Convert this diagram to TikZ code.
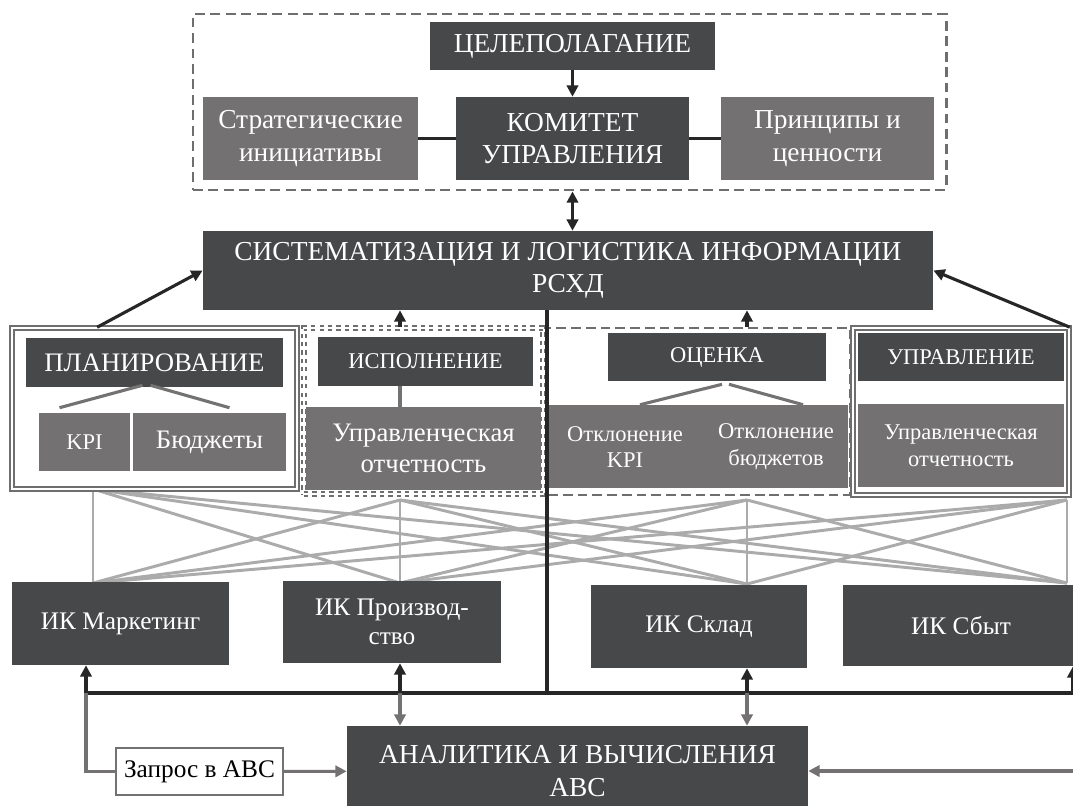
\documentclass[tikz,border=0pt]{standalone}
\usepackage{fontspec}
\setmainfont{Liberation Serif}
\usetikzlibrary{arrows.meta,calc}
\definecolor{dark}{HTML}{47484A}
\definecolor{mid}{HTML}{737172}
\definecolor{pale}{HTML}{ABABAB}
\definecolor{frame}{HTML}{6E6E6E}
\begin{document}
\begin{tikzpicture}[x=0.025cm,y=-0.025cm,>={Triangle[length=8pt,width=8pt]},
  sz/.style 2 args={minimum width=#1*0.25mm,minimum height=#2*0.25mm},
  dk/.style={fill=dark,text=white,inner sep=0pt,align=center,font=\fontsize{19.5}{23}\selectfont},
  md/.style={fill=mid,text=white,inner sep=0pt,align=center,font=\fontsize{19.5}{23}\selectfont},
  f19/.style={font=\fontsize{19}{22}\selectfont},
  f18/.style={font=\fontsize{18}{21}\selectfont},
  f16/.style={font=\fontsize{16}{19}\selectfont},
  blk/.style={line width=2.2pt,black!85},
  gr/.style={line width=2.2pt,mid},
  web/.style={line width=2.1pt,pale},
  topframe/.style={draw=frame,line width=2pt,dash pattern=on 7pt off 4pt,inner sep=0pt},
  dblframe/.style={draw=frame,double,double distance=1.5pt,line width=1.1pt,inner sep=0pt},
  dshframe/.style={draw=frame,line width=2pt,dash pattern=on 7pt off 3.5pt,inner sep=0pt}]
\clip (0,0) rectangle (1073,805);

% web between blocks and IK
\coordinate (t1) at (93,489);
\coordinate (t2) at (400,500);
\coordinate (t3) at (747,500);
\coordinate (t4) at (1067,500);
\coordinate (u1) at (93,583);
\coordinate (u2) at (400,583);
\coordinate (u3) at (747,584);
\coordinate (u4) at (1067,583);
\foreach \i in {1,...,4}
  \foreach \j in {1,...,4}
    \draw[web] (t\i) -- (u\j);

% top group
\node[dk,sz={284}{48}] (goal) at (572.5,46) {ЦЕЛЕПОЛАГАНИЕ};
\node[md,sz={215}{83}] (strat) at (310.5,138.5) {Стратегические\\инициативы};
\node[dk,sz={233}{83}] (komitet) at (572.5,138.5) {КОМИТЕТ\\УПРАВЛЕНИЯ};
\node[md,sz={213}{83}] (princ) at (827.5,138.5) {Принципы и\\ценности};
\node[topframe,sz={753}{176}] (topgrp) at (569.5,102) {};
\node[dk,sz={730}{79}] (syst) at (568,270.5) {СИСТЕМАТИЗАЦИЯ И ЛОГИСТИКА ИНФОРМАЦИИ\\РСХД};

% blocks
\node[dblframe,sz={285}{161}] (planG) at (154.5,408.5) {};
\node[dblframe,dashed,sz={239}{166}] (execG) at (423.5,411) {};
\node[dshframe,sz={302}{167}] (evalG) at (699,411.5) {};
\node[dblframe,sz={216}{167}] (mgmtG) at (961,411.5) {};
\node[dk,f19,sz={257}{49}] (plan) at (154.5,362.5) {ПЛАНИРОВАНИЕ};
\node[md,f16,sz={91}{58}] (kpi) at (84.5,442) {KPI};
\node[md,f19,sz={153}{58}] (budget) at (209.5,442) {Бюджеты};
\node[dk,f16,sz={215}{49}] (exec) at (425.5,361.5) {ИСПОЛНЕНИЕ};
\node[md,f19,sz={235}{83}] (report1) at (423.5,448.5) {Управленческая\\отчетность};
\node[dk,f16,sz={218}{48}] (eval) at (717,357) {ОЦЕНКА};
\node[md,sz={300}{83}] (dev) at (698,446.5) {};
\node[text=white,f16,align=center] (devkpi) at (625,447) {Отклонение\\KPI};
\node[text=white,f16,align=center] (devbud) at (776,447) {Отклонение\\бюджетов};
\node[dk,f16,sz={206}{48}] (mgmt) at (961,357) {УПРАВЛЕНИЕ};
\node[md,f16,sz={206}{83}] (report2) at (961,445.5) {Управленческая\\отчетность};

% IK and ABC
\node[dk,f18,sz={217}{83}] (mark) at (120.5,623.5) {ИК Маркетинг};
\node[dk,f18,sz={218}{82}] (prod) at (392,622) {ИК Производ-\\ство};
\node[dk,f18,sz={216}{83}] (sklad) at (699,626.5) {ИК Склад};
\node[dk,f18,sz={236}{81}] (sbyt) at (961,625.5) {ИК Сбыт};
\node[dk,sz={461}{90}] (anal) at (577.5,771) {АНАЛИТИКА И ВЫЧИСЛЕНИЯ\\АВС};
\node[draw=mid,line width=1.5pt,fill=white,f18,sz={167}{47},inner sep=0pt] (query) at (199.5,771.5) {Запрос в АВС};

% connectors top
\draw[blk,->] (goal) -- (komitet);
\draw[blk] (strat) -- (komitet);
\draw[blk] (komitet) -- (princ);
\draw[blk,<->] (topgrp.south -| goal) -- (syst.north -| goal);

% bus coordinates
\coordinate (b1) at (86,693);
\coordinate (b2) at (400,693);
\coordinate (b3) at (747,693);
\coordinate (b4) at (1073,693);
\coordinate (sp) at (547,693);
\coordinate (busR) at (1073,693);
\coordinate (inR) at (1073,771);

% blocks to syst
\draw[blk,->] ($(planG.north west)!0.3!(planG.north east)$) -- (syst.west);
\draw[blk,->] (mgmtG.north east) -- (syst.east);
\draw[blk,->] (execG.north -| b2) -- (syst.south -| b2);
\draw[blk,->] (evalG.north -| b3) -- (syst.south -| b3);
\draw[gr] (exec.south -| b2) -- (report1.north -| b2);
\draw[gr] ($(kpi.north)+(-25,-5)$) -- ($(plan.south)+(-12,-2)$);
\draw[gr] ($(plan.south)+(-4,-2)$) -- ($(budget.north)+(20,-5)$);
\draw[gr] ($(dev.north)+(-58,0)$) -- ($(eval.south)+(5,3)$);
\draw[gr] ($(eval.south)+(12,3)$) -- ($(dev.north)+(105,0)$);

% bus
\draw[blk] (syst.south -| sp) -- (sp);
\draw[blk] (b1) -- (busR);
\foreach \c/\n in {b1/mark,b2/prod,b3/sklad,b4/sbyt}
  \draw[blk,->] (\c) -- (\c |- \n.south);
\foreach \c in {b2,b3}
  \draw[gr,->] (\c) -- (\c |- anal.north);
\draw[gr] (query.west) -| (b1);
\draw[gr,->] (query) -- (anal);
\draw[gr,->] (inR) -- (anal.east |- inR);
\end{tikzpicture}
\end{document}
